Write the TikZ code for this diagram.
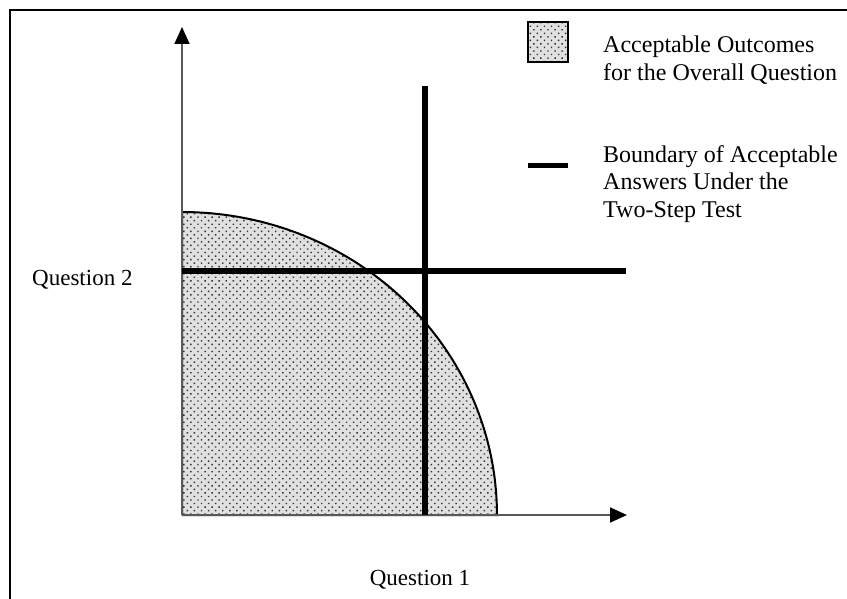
\documentclass[tikz,border=0pt]{standalone}
\usepackage{fontspec}
\setmainfont{Liberation Serif}
\usetikzlibrary{arrows.meta,patterns.meta}
\begin{document}
\begin{tikzpicture}[x=1pt,y=-1pt,
  axisline/.style={line width=1.8pt, draw=black!65, -{Triangle[length=17pt,width=15pt,color=black]}},
  boundary/.style={line width=5.5pt, draw=black},
  dotted fill/.style={preaction={fill=black!12}, pattern={Dots[radius=1pt, distance=5pt, angle=45]}, pattern color=black!80},
  lbl/.style={font=\fontsize{23}{27}\selectfont, align=left, inner sep=0pt},
  leg/.style={font=\fontsize{24}{27.5}\selectfont, align=left, inner sep=0pt, anchor=north west},
  frameline/.style={line width=2pt, draw=black}]
\useasboundingbox (0,0) rectangle (847,599);
% frame
\coordinate (fbl) at (10,599);
\coordinate (ftl) at (10,10);
\coordinate (ftr) at (847,10);
\draw[frameline] (fbl) -- (ftl) -- (ftr);
% key points
\coordinate (O) at (182,515);
\coordinate (ytip) at (182,27);
\coordinate (xtip) at (627,515);
\coordinate (rtop) at (182,212);
% shaded region
\path[dotted fill] (O) -- (rtop) -- plot[domain=90:0, samples=80] ({182+315*cos(\x)},{515-303*sin(\x)}) -- cycle;
\draw[line width=2pt] (O) -- (rtop) -- plot[domain=90:0, samples=80] ({182+315*cos(\x)},{515-303*sin(\x)}) -- (O);
% axes
\draw[axisline] (O) -- (ytip);
\draw[axisline] (O) -- (xtip);
% boundaries
\coordinate (vtop) at (425,86);
\coordinate (vbot) at (425,515);
\coordinate (hl) at (182,271);
\coordinate (hr) at (626,271);
\draw[boundary] (vbot) -- (vtop);
\draw[boundary] (hl) -- (hr);
% axis labels
\node[lbl, anchor=base west] (q2) at (32,285) {Question 2};
\node[lbl, anchor=base] (q1) at (420,585) {Question 1};
% legend
\node[draw, line width=2pt, minimum size=40pt, inner sep=0pt, dotted fill] (legbox) at (548,42) {};
\node[leg] (legt1) at (603,36) {Acceptable Outcomes\\for the Overall\ Question};
\coordinate (legL) at (528,166);
\coordinate (legR) at (568,166);
\draw[line width=5pt] (legL) -- (legR);
\node[leg] (legt2) at (603,145) {Boundary of Acceptable\\Answers Under the\\Two-Step Test};
\end{tikzpicture}
\end{document}
